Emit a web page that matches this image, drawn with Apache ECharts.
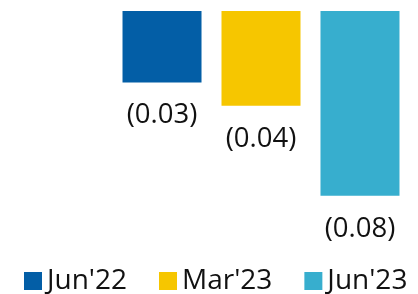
<!DOCTYPE html>
<html>
<head>
<meta charset="utf-8">
<script src="https://cdn.jsdelivr.net/npm/echarts@6/dist/echarts.min.js"></script>
<style>
  html, body { margin: 0; padding: 0; background: #fff; }
  #chart { width: 418px; height: 294px; }
</style>
</head>
<body>
<div id="chart"></div>
<script>
// data
const categories = ['']
const seriesNames = ["Jun'22", "Mar'23", "Jun'23"]
const seriesValues = [-0.031, -0.041, -0.08]
const seriesColors = ['#035EA6', '#F6C600', '#37AECE']

const fontFamily = 'Open Sans'

const chart = echarts.init(document.getElementById('chart'))

const series = seriesNames.map((name, k) => ({
  name,
  type: 'bar',
  data: [seriesValues[k]],
  barWidth: 79,
  barGap: '25.3%',
  itemStyle: { color: seriesColors[k] },
  label: {
    show: true,
    position: 'bottom',
    distance: 19,
    color: '#111',
    fontFamily,
    fontSize: 27.5,
    formatter: (p) => '(' + Math.abs(p.value).toFixed(2) + ')'
  }
}))

chart.setOption({
  animation: false,
  grid: { left: 104, right: 0, top: 11, bottom: 52 },
  legend: {
    left: 24,
    top: 267,
    width: 400,
    padding: 0,
    itemWidth: 18,
    itemHeight: 18,
    itemGap: 32,
    icon: 'rect',
    textStyle: { fontFamily, fontSize: 28, color: '#111' },
    data: seriesNames
  },
  xAxis: {
    type: 'category',
    data: categories,
    axisLine: { show: false },
    axisTick: { show: false },
    axisLabel: { show: false }
  },
  yAxis: {
    type: 'value',
    min: -0.1,
    max: 0,
    show: false,
    splitLine: { show: false }
  },
  series
})
</script>
</body>
</html>
